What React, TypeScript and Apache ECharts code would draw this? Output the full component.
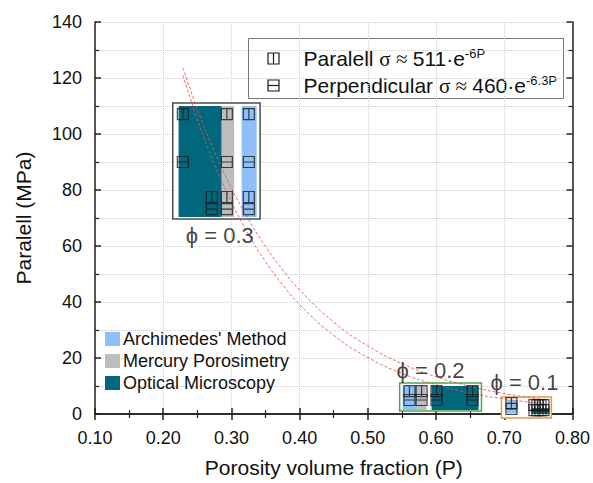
import React, { useEffect, useRef } from 'react';
import * as echarts from 'echarts';

// ---- data (porosity P, strength MPa) ----
const curveA: number[][] = [
  [0.229, 123.6], [0.25, 109.0], [0.275, 93.8], [0.3, 80.7], [0.325, 69.5], [0.35, 59.8],
  [0.375, 51.5], [0.4, 44.3], [0.45, 32.8], [0.5, 24.3], [0.55, 18.0], [0.6, 13.3],
  [0.65, 9.9], [0.7, 7.3], [0.76, 5.1],
];
const curveB: number[][] = [
  [0.229, 121.0], [0.25, 105.3], [0.275, 89.3], [0.3, 75.7], [0.325, 64.2], [0.35, 54.4],
  [0.375, 46.2], [0.4, 39.1], [0.45, 28.1], [0.5, 20.2], [0.55, 14.5], [0.6, 10.5],
  [0.65, 7.5], [0.7, 5.4], [0.76, 3.6],
];
// [P0, P1, S0, S1]
const groupFrames: number[][] = [
  [0.214, 0.342, 69.6, 111.1],
  [0.5466, 0.6666, 1.07, 11.07],
  [0.6959, 0.7691, -1.43, 6.07],
];
const archimedesRanges: number[][] = [
  [0.315, 0.337, 70.4, 110],
  [0.551, 0.573, 1.4, 10],
  [0.7032, 0.7193, 0.36, 5],
];
const mercuryRanges: number[][] = [
  [0.2855, 0.304, 70.4, 110],
  [0.573, 0.586, 1.4, 10],
];
const opticalRanges: number[][] = [
  [0.2225, 0.2855, 70.4, 110],
  [0.5934, 0.6622, 1.4, 10],
  [0.7398, 0.7662, 0, 2.1],
];
const paralellPoints: number[][] = [
  [0.2288, 107.1], [0.2933, 107.1], [0.3255, 107.1], [0.2713, 77.5], [0.2933, 77.5], [0.3255, 77.5],
  [0.561, 8.2], [0.5788, 8.2], [0.6007, 8.2], [0.6534, 8.2],
  [0.7105, 3.9], [0.7442, 3.2], [0.7486, 3.2], [0.753, 3.2], [0.7574, 3.2],
];
const perpendicularPoints: number[][] = [
  [0.2288, 90], [0.2933, 90], [0.3255, 90], [0.2713, 73.2], [0.2933, 73.2], [0.3255, 73.2],
  [0.561, 5], [0.5788, 5], [0.6007, 5], [0.6534, 5],
  [0.7105, 1.8], [0.7442, 1.4], [0.7486, 1.4], [0.753, 1.4], [0.7574, 1.4],
];
const phiLabels: (number | string)[][] = [
  [0.283, 63.6, 'ϕ = 0.3'],
  [0.592, 15.7, 'ϕ = 0.2'],
  [0.7296, 11.1, 'ϕ = 0.1'],
];
const fitLegendTexts = [
  '{t|Paralell }{g|σ ≈ }{t|511·e}{s|-6P}',
  '{t|Perpendicular }{g|σ ≈ }{t|460·e}{s|-6.3P}',
];

const FONT = 'Liberation Sans, Arial, sans-serif';
const frameColors = ['#4d4d4d', '#4fa552', '#e49a45'];
const pathPar = 'path://M1,1H11V11H1Z M6,1V11';
const pathPerp = 'path://M1,1H11V11H1Z M1,6H11';

function rectSeries(name: string, data: number[][], color: string) {
  return {
    type: 'custom',
    name,
    data,
    clip: false,
    z: 3,
    itemStyle: { color },
    encode: { x: [0, 1], y: [2, 3] },
    renderItem: (_p: any, api: any) => {
      const a = api.coord([api.value(0), api.value(3)]);
      const b = api.coord([api.value(1), api.value(2)]);
      return {
        type: 'rect',
        shape: { x: a[0], y: a[1], width: b[0] - a[0], height: b[1] - a[1] },
        style: { fill: color },
      };
    },
  };
}

export default function App() {
  const ref = useRef<HTMLDivElement>(null);
  useEffect(() => {
    const chart = echarts.init(ref.current!, undefined, { renderer: 'svg' });
    const gridDotted = { show: true, lineStyle: { color: '#cfcfcf', type: 'dotted', width: 1 } };
    const axisLine = { show: true, lineStyle: { color: '#222', width: 1.5 } };
    const fitStyle = { color: '#e8524a', width: 1, type: [3, 2], opacity: 0.85 };
    const iconStroke = { fill: 'none', stroke: '#1a1a1a', lineWidth: 1.2 };
    const rich = {
      t: { fontSize: 21, fontFamily: FONT, fill: '#111', lineHeight: 24 },
      g: { fontSize: 21, fontFamily: 'Liberation Serif, serif', fill: '#111', lineHeight: 24 },
      s: { fontSize: 13, fontFamily: FONT, fill: '#111', verticalAlign: 'top', lineHeight: 24, padding: [0, 0, 8, 0] },
    };
    chart.setOption({
      animation: false,
      backgroundColor: '#fff',
      textStyle: { fontFamily: FONT },
      grid: { left: 95, top: 22, right: 20, bottom: 69 },
      graphic: [
        {
          type: 'group',
          left: 248,
          top: 38,
          z: 100,
          children: [
            { type: 'rect', shape: { x: 0, y: 0, width: 315, height: 60 }, style: { fill: '#fff', stroke: '#777', lineWidth: 1 } },
            { type: 'rect', shape: { x: 19.5, y: 14.5, width: 11, height: 11 }, style: iconStroke },
            { type: 'line', shape: { x1: 25, y1: 14.5, x2: 25, y2: 25.5 }, style: iconStroke },
            { type: 'rect', shape: { x: 19.5, y: 41.5, width: 11, height: 11 }, style: iconStroke },
            { type: 'line', shape: { x1: 19.5, y1: 47, x2: 30.5, y2: 47 }, style: iconStroke },
            { type: 'text', x: 55, y: 20, style: { text: fitLegendTexts[0], rich, verticalAlign: 'middle', align: 'left' } },
            { type: 'text', x: 55, y: 47, style: { text: fitLegendTexts[1], rich, verticalAlign: 'middle', align: 'left' } },
          ],
        },
      ],
      legend: [
        {
          orient: 'vertical',
          left: 103,
          top: 328,
          padding: [2, 2, 2, 2],
          itemGap: 4,
          itemWidth: 15,
          itemHeight: 14,
          icon: 'rect',
          data: ["Archimedes' Method", 'Mercury Porosimetry', 'Optical Microscopy'],
          textStyle: { fontSize: 18, color: '#111', fontFamily: FONT, padding: [0, 0, 0, -2] },
          z: 10,
        },
      ],
      xAxis: [
        {
          type: 'value',
          min: 0.1,
          max: 0.8,
          interval: 0.1,
          position: 'bottom',
          name: 'Porosity volume fraction (P)',
          nameLocation: 'middle',
          nameGap: 43,
          nameTextStyle: { fontSize: 21, color: '#111', fontFamily: FONT },
          axisLine,
          axisTick: { show: true, inside: true, length: 6, lineStyle: { color: '#222', width: 1.5 } },
          minorTick: { show: true, splitNumber: 2, length: 4, lineStyle: { color: '#222', width: 1.2 } },
          axisLabel: { fontSize: 18, color: '#111', margin: 15, formatter: (v: number) => v.toFixed(2) },
          splitLine: gridDotted,
        },
        {
          type: 'value',
          min: 0.1,
          max: 0.8,
          interval: 0.1,
          position: 'top',
          axisLine,
          axisTick: { show: true, inside: true, length: 6, lineStyle: { color: '#222', width: 1.5 } },
          minorTick: { show: true, splitNumber: 2, length: 4, lineStyle: { color: '#222', width: 1.2 } },
          axisLabel: { show: false },
          splitLine: { show: false },
        },
      ],
      yAxis: [
        {
          type: 'value',
          min: 0,
          max: 140,
          interval: 20,
          position: 'left',
          name: 'Paralell (MPa)',
          nameLocation: 'middle',
          nameGap: 61,
          nameTextStyle: { fontSize: 21, color: '#111', fontFamily: FONT },
          axisLine,
          axisTick: { show: true, inside: true, length: 6, lineStyle: { color: '#222', width: 1.5 } },
          minorTick: { show: true, splitNumber: 2, length: 4, lineStyle: { color: '#222', width: 1.2 } },
          axisLabel: { fontSize: 18, color: '#111', margin: 13 },
          splitLine: gridDotted,
          minorSplitLine: gridDotted,
        },
        {
          type: 'value',
          min: 0,
          max: 140,
          interval: 20,
          position: 'right',
          axisLine,
          axisTick: { show: true, inside: true, length: 6, lineStyle: { color: '#222', width: 1.5 } },
          minorTick: { show: true, splitNumber: 2, length: 4, lineStyle: { color: '#222', width: 1.2 } },
          axisLabel: { show: false },
          splitLine: { show: false },
        },
      ],
      series: [
        {
          type: 'custom',
          name: 'frames',
          data: groupFrames.map((f, i) => [...f, i]),
          clip: false,
          z: 2,
          encode: { x: [0, 1], y: [2, 3] },
          renderItem: (_p: any, api: any) => {
            const a = api.coord([api.value(0), api.value(3)]);
            const b = api.coord([api.value(1), api.value(2)]);
            return {
              type: 'rect',
              shape: { x: a[0], y: a[1], width: b[0] - a[0], height: b[1] - a[1] },
              style: { fill: '#fff', stroke: frameColors[api.value(4)], lineWidth: 1.5 },
            };
          },
        },
        rectSeries("Archimedes' Method", archimedesRanges, '#8ec0f7'),
        rectSeries('Mercury Porosimetry', mercuryRanges, '#bdbdbd'),
        rectSeries('Optical Microscopy', opticalRanges, '#00677d'),
        {
          type: 'line',
          name: 'fitA',
          data: curveA,
          smooth: true,
          showSymbol: false,
          symbol: 'none',
          z: 4,
          lineStyle: fitStyle,
        },
        {
          type: 'line',
          name: 'fitB',
          data: curveB,
          smooth: true,
          showSymbol: false,
          symbol: 'none',
          z: 4,
          lineStyle: fitStyle,
        },
        {
          type: 'scatter',
          name: 'Paralell',
          data: paralellPoints,
          symbol: pathPar,
          symbolSize: 11,
          z: 5,
          itemStyle: { color: 'rgba(255,255,255,0)', borderColor: '#1a1a1a', borderWidth: 1.2 },
        },
        {
          type: 'scatter',
          name: 'Perpendicular',
          data: perpendicularPoints,
          symbol: pathPerp,
          symbolSize: 11,
          z: 5,
          itemStyle: { color: 'rgba(255,255,255,0)', borderColor: '#1a1a1a', borderWidth: 1.2 },
        },
        {
          type: 'scatter',
          name: 'phi',
          data: phiLabels,
          symbolSize: 1,
          z: 6,
          silent: true,
          itemStyle: { color: 'rgba(0,0,0,0)' },
          label: {
            show: true,
            position: 'inside',
            fontSize: 22,
            color: '#111',
            fontFamily: FONT,
            formatter: (p: any) => p.value[2],
          },
        },
      ],
    });
    return () => chart.dispose();
  }, []);
  return <div ref={ref} style={{ width: 593, height: 483, position: 'absolute', left: 0, top: 0 }} />;
}
